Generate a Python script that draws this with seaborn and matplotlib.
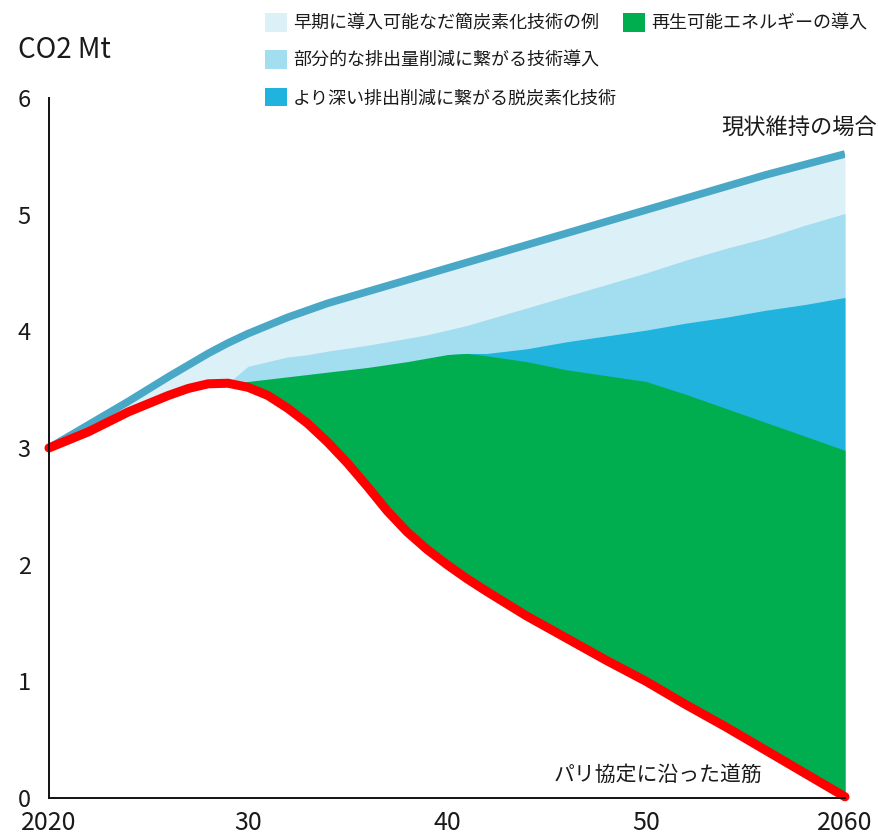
import numpy as np
import pandas as pd
import matplotlib
matplotlib.use("Agg")
import matplotlib.pyplot as plt
from matplotlib.patches import Patch
import seaborn as sns

# Emission pathways, CO2 in Mt
years = [2020, 2022, 2024, 2026, 2027, 2028, 2029, 2030, 2031, 2032, 2033, 2034,
         2035, 2036, 2037, 2038, 2039, 2040, 2041, 2042, 2044, 2046, 2048, 2050,
         2052, 2054, 2056, 2058, 2060]
bau = [3.00, 3.20, 3.40, 3.61, 3.71, 3.81, 3.90, 3.98, 4.05, 4.12, 4.18, 4.24,
       4.29, 4.34, 4.39, 4.44, 4.49, 4.54, 4.59, 4.64, 4.74, 4.84, 4.94, 5.04,
       5.14, 5.24, 5.34, 5.43, 5.52]
paris = [3.00, 3.14, 3.31, 3.45, 3.51, 3.55, 3.555, 3.52, 3.45, 3.34, 3.21, 3.05,
         2.87, 2.67, 2.46, 2.28, 2.13, 2.00, 1.88, 1.77, 1.56, 1.37, 1.18, 1.00,
         0.80, 0.61, 0.41, 0.21, 0.01]
nan = np.nan
partial_top = [nan, nan, nan, nan, nan, nan, 3.555, 3.70, 3.74, 3.78, 3.80, 3.83,
               3.855, 3.88, 3.91, 3.94, 3.97, 4.01, 4.05, 4.10, 4.20, 4.30, 4.40, 4.50,
               4.61, 4.71, 4.80, 4.91, 5.01]
deep_top = [nan, nan, nan, nan, nan, nan, nan, nan, nan, nan, nan, nan,
            nan, nan, nan, nan, nan, 3.80, 3.81, 3.81, 3.85, 3.91, 3.96, 4.01,
            4.07, 4.12, 4.18, 4.23, 4.29]
renew_top = [nan, nan, nan, nan, nan, nan, 3.555, 3.57, 3.59, 3.61, 3.63, 3.65,
             3.67, 3.69, 3.715, 3.74, 3.77, 3.80, 3.81, 3.79, 3.74, 3.67, 3.62, 3.57,
             3.46, 3.34, 3.22, 3.10, 2.98]

layer_labels = ["早期に導入可能なだ簡炭素化技術の例",
                "部分的な排出量削減に繋がる技術導入",
                "より深い排出削減に繋がる脱炭素化技術",
                "再生可能エネルギーの導入"]
layer_colors = ["#DCF0F8", "#A3DDF0", "#1FB3DD", "#00AE4F"]
bau_label = "現状維持の場合"
paris_label = "パリ協定に沿った道筋"
xticks = [2020, 2030, 2040, 2050, 2060]
xtick_labels = ["2020", "30", "40", "50", "2060"]
yticks = [0, 1, 2, 3, 4, 5, 6]

df = pd.DataFrame({"year": years, "bau": bau, "paris": paris,
                   "partial": partial_top, "deep": deep_top, "renew": renew_top})

sns.set_theme(style="white")
plt.rcParams["font.family"] = ["Noto Sans CJK JP", "DejaVu Sans"]

fig = plt.figure(figsize=(8.79, 8.36), dpi=100)
ax = fig.add_axes([0.0557, 0.0455, 0.9056, 0.8373])

x = df["year"].to_numpy()
low = df["paris"].to_numpy()
ax.fill_between(x, low, df["bau"], color=layer_colors[0], lw=0)
ax.fill_between(x, low, df["partial"], color=layer_colors[1], lw=0)
ax.fill_between(x, low, df["deep"], color=layer_colors[2], lw=0)
ax.fill_between(x, low, df["renew"], color=layer_colors[3], lw=0)

sns.lineplot(data=df, x="year", y="bau", ax=ax, color="#4AA8C7", lw=5.5,
             solid_capstyle="butt", solid_joinstyle="round")
sns.lineplot(data=df, x="year", y="paris", ax=ax, color="#FF0000", lw=6.5,
             solid_capstyle="round", solid_joinstyle="round", clip_on=False)

ax.set_xlim(2020, 2060)
ax.set_ylim(0, 6)
ax.set_xticks(xticks)
ax.set_xticklabels(xtick_labels)
ax.set_yticks(yticks)
ax.set_xlabel("")
ax.set_ylabel("")
ax.tick_params(axis="both", length=0, colors="#1a1a1a")
ax.tick_params(axis="y", pad=13, labelsize=17)
ax.tick_params(axis="x", pad=9, labelsize=18)
for side in ["top", "right"]:
    ax.spines[side].set_visible(False)
for side in ["left", "bottom"]:
    ax.spines[side].set_color("#111111")
    ax.spines[side].set_linewidth(1.4)
ax.grid(False)

fig.text(18 / 879, 1 - 50 / 836, "CO2 Mt", fontsize=20, color="#1a1a1a",
         ha="left", va="center")

ax.text(2061.6, 5.74, bau_label, fontsize=16, color="#1a1a1a",
        ha="right", va="center")
ax.text(2050.6, 0.2, paris_label, fontsize=15, color="#1a1a1a",
        ha="center", va="center")

legend_kw = dict(frameon=False, fontsize=13, handlelength=1.2, handleheight=1.2,
                 handletextpad=0.35, labelspacing=1.0, borderpad=0,
                 borderaxespad=0, loc="upper left", labelcolor="#1a1a1a")
h1 = [Patch(facecolor=c, edgecolor="none") for c in layer_colors[:3]]
leg1 = fig.legend(h1, layer_labels[:3], bbox_to_anchor=(265 / 879, 1 - 13 / 836),
                  **legend_kw)
h2 = [Patch(facecolor=layer_colors[3], edgecolor="none")]
leg2 = fig.legend(h2, layer_labels[3:], bbox_to_anchor=(623 / 879, 1 - 13 / 836),
                  **legend_kw)

fig.savefig("out.png", dpi=100)
